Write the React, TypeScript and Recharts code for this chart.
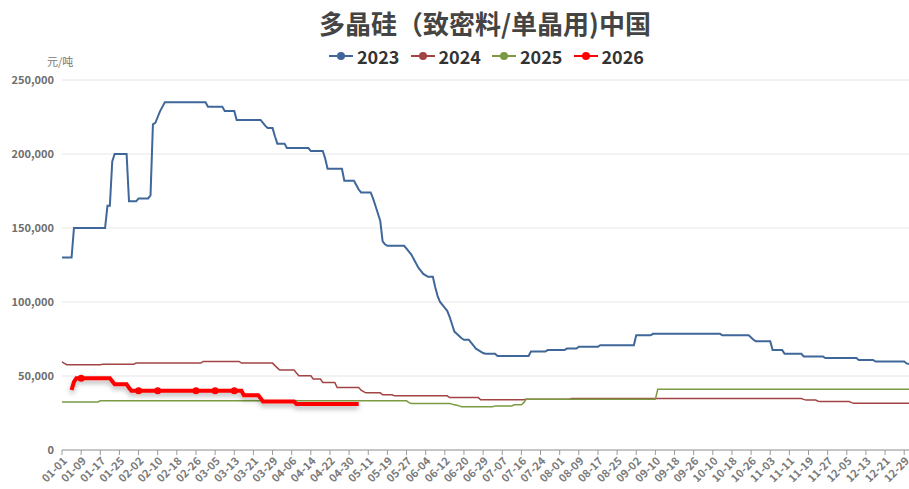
import { LineChart, Line, XAxis, YAxis, CartesianGrid } from 'recharts'

// one category per calendar day (union of trading days), a label every 8th
const tickLabels = [
  '01-01', '01-09', '01-17', '01-25', '02-02', '02-10', '02-18', '02-26', '03-05',
  '03-13', '03-21', '03-29', '04-06', '04-14', '04-22', '04-30', '05-11', '05-19',
  '05-27', '06-04', '06-12', '06-20', '06-29', '07-07', '07-16', '07-24', '08-01',
  '08-09', '08-17', '08-25', '09-02', '09-10', '09-18', '09-26', '10-10', '10-18',
  '10-26', '11-03', '11-11', '11-19', '11-27', '12-05', '12-13', '12-21', '12-29',
]
const N = 355
const yTicks = [0, 50000, 100000, 150000, 200000, 250000]

// [first day index, price] — price holds until the next entry
const steps2023: [number, number][] = [
  [0, 130000], [5, 150000], [19, 165000], [21, 195000], [22, 200000], [28, 168000],
  [32, 170000], [37, 172000], [38, 220000], [39, 221000], [40, 225000], [41, 229000],
  [42, 232000], [43, 235000], [61, 232000], [68, 229000], [73, 223000], [84, 221000],
  [85, 219000], [86, 217500], [89, 212000], [90, 207000], [94, 204000], [104, 202000],
  [110, 197000], [111, 190000], [118, 182000], [123, 179000], [124, 176000], [125, 174000],
  [130, 170000], [131, 165000], [132, 160000], [133, 155000], [134, 141000], [135, 139000],
  [136, 138000], [144, 136000], [145, 134000], [146, 132000], [147, 129000], [148, 126000],
  [149, 123000], [150, 121000], [151, 119000], [152, 118000], [153, 117000], [156, 110000],
  [157, 104000], [158, 100000], [159, 98000], [160, 96000], [161, 94000], [162, 90000],
  [163, 85000], [164, 80000], [165, 78500], [166, 77000], [167, 75500], [168, 74500],
  [171, 72500], [172, 70500], [173, 68500], [174, 67500], [175, 66500], [176, 65500],
  [177, 65000], [182, 63500], [196, 66500], [203, 67500], [211, 68500], [216, 69800],
  [225, 70800], [240, 77500], [247, 78500], [276, 77500], [288, 76000], [289, 74500],
  [290, 73500], [297, 67500], [302, 65000], [310, 63200], [319, 62100], [333, 60800],
  [340, 59800], [353, 58500], [354, 58000],
]
const steps2024: [number, number][] = [
  [0, 59600], [1, 58500], [2, 57600], [17, 58000], [31, 58700], [59, 59800], [75, 58700],
  [89, 57000], [90, 55500], [91, 54000], [98, 52000], [99, 50100], [105, 48000],
  [109, 45600], [115, 42200], [125, 40400], [126, 39500], [127, 38600], [134, 37300],
  [139, 36600], [162, 35400], [175, 33900], [194, 34300], [213, 34800], [310, 34200],
  [311, 33700], [316, 33000], [317, 32700], [330, 32000], [331, 31600],
]
const steps2025: [number, number][] = [
  [0, 32500], [16, 33200], [145, 32000], [146, 31400], [163, 31000], [164, 30600],
  [165, 30200], [166, 29800], [167, 29300], [181, 29800], [189, 30500], [193, 32000],
  [194, 34300], [249, 41100],
]
const steps2026: [number, number][] = [
  [4, 40500], [5, 46000], [6, 48500], [21, 46500], [22, 44500], [28, 42000], [29, 40000],
  [76, 37000], [83, 35000], [84, 32700], [98, 31000],
]
const last2026 = 124
const dots2026 = [8, 32, 40, 56, 64, 72]

function expand(steps: [number, number][], last: number) {
  const out: (number | null)[] = new Array(N).fill(null)
  let k = 0
  for (let i = steps[0][0]; i <= last; i++) {
    while (k + 1 < steps.length && steps[k + 1][0] <= i) k++
    out[i] = steps[k][1]
  }
  return out
}

const s23 = expand(steps2023, N - 1)
const s24 = expand(steps2024, N - 1)
const s25 = expand(steps2025, N - 1)
const s26 = expand(steps2026, last2026)

const data = Array.from({ length: N }, (_, i) => ({
  date: i % 8 === 0 ? tickLabels[i / 8] : `d${i}`,
  y2023: s23[i],
  y2024: s24[i],
  y2025: s25[i],
  y2026: s26[i],
}))

const series = [
  { key: 'y2023', name: '2023', color: '#3f679a', width: 2 },
  { key: 'y2024', name: '2024', color: '#a24444', width: 1.5 },
  { key: 'y2025', name: '2025', color: '#7b9a42', width: 1.5 },
  { key: 'y2026', name: '2026', color: '#ff0000', width: 4 },
]

const FONT = '"Noto Sans CJK SC", "Noto Sans", sans-serif'

// eslint-disable-next-line @typescript-eslint/no-explicit-any
function XTick(props: any) {
  const { x, y, payload } = props
  return (
    <g transform={`translate(${x + 3},${y + 2})`}>
      <text
        x={0}
        y={0}
        dy="0.35em"
        textAnchor="end"
        transform="rotate(-45)"
        fill="#7a7a7a"
        fontSize={11}
        fontWeight="bold"
        fontFamily={FONT}
      >
        {payload.value}
      </text>
    </g>
  )
}

// eslint-disable-next-line @typescript-eslint/no-explicit-any
function RedDot(props: any) {
  const { cx, cy, index, value } = props
  if (value == null || !dots2026.includes(index)) return <g key={`rd-${index}`} />
  return <circle key={`rd-${index}`} cx={cx} cy={cy} r={3.5} fill="#ff0000" />
}

function LegendItem({ name, color, x }: { name: string; color: string; x: number }) {
  return (
    <div style={{ position: 'absolute', left: x, top: 44, height: 24, display: 'flex', alignItems: 'center' }}>
      <svg width={24} height={12}>
        <line x1={0} y1={6} x2={24} y2={6} stroke={color} strokeWidth={2} />
        <circle cx={12} cy={6} r={4} fill={color} />
      </svg>
      <span style={{ marginLeft: 4, fontSize: 18, fontWeight: 'bold', color: '#333', fontFamily: FONT }}>
        {name}
      </span>
    </div>
  )
}

export default function App() {
  return (
    <div style={{ position: 'absolute', left: 0, top: 0, width: 909, height: 489, background: '#fff' }}>
      <div
        style={{
          position: 'absolute', left: 485, top: 7, transform: 'translateX(-50%)', whiteSpace: 'nowrap',
          fontSize: 26, lineHeight: '32px', fontWeight: 'bold', color: '#444', fontFamily: FONT,
        }}
      >
        多晶硅（致密料/单晶用)中国
      </div>
      {series.map((s, i) => (
        <LegendItem key={s.key} name={s.name} color={s.color} x={329 + i * 81.5} />
      ))}
      <div style={{ position: 'absolute', left: 47, top: 53, fontSize: 11, color: '#777', fontFamily: FONT }}>元/吨</div>
      <LineChart width={909} height={489} data={data} margin={{ top: 80, right: 0, bottom: 0, left: 0 }}>
        <defs>
          <filter id="redShadow" x="-5%" y="-50%" width="110%" height="200%">
            <feDropShadow dx="0" dy="3" stdDeviation="2.5" floodColor="#000" floodOpacity="0.3" />
          </filter>
        </defs>
        <CartesianGrid vertical={false} stroke="#e6e6e6" />
        <XAxis
          dataKey="date"
          interval={7}
          height={39}
          tick={<XTick />}
          tickSize={5}
          axisLine={{ stroke: '#999' }}
          tickLine={{ stroke: '#999' }}
        />
        <YAxis
          width={62}
          domain={[0, 250000]}
          ticks={yTicks}
          tickFormatter={(v: number) => v.toLocaleString('en-US')}
          axisLine={false}
          tickLine={false}
          tickSize={0}
          tickMargin={8}
          tick={{ fill: '#6e6e6e', fontSize: 11, fontWeight: 'bold', fontFamily: FONT }}
        />
        {series.map((s) => (
          <Line
            key={s.key}
            type="linear"
            dataKey={s.key}
            stroke={s.color}
            strokeWidth={s.width}
            dot={s.key === 'y2026' ? <RedDot /> : false}
            activeDot={false}
            isAnimationActive={false}
            filter={s.key === 'y2026' ? 'url(#redShadow)' : undefined}
          />
        ))}
      </LineChart>
    </div>
  )
}
